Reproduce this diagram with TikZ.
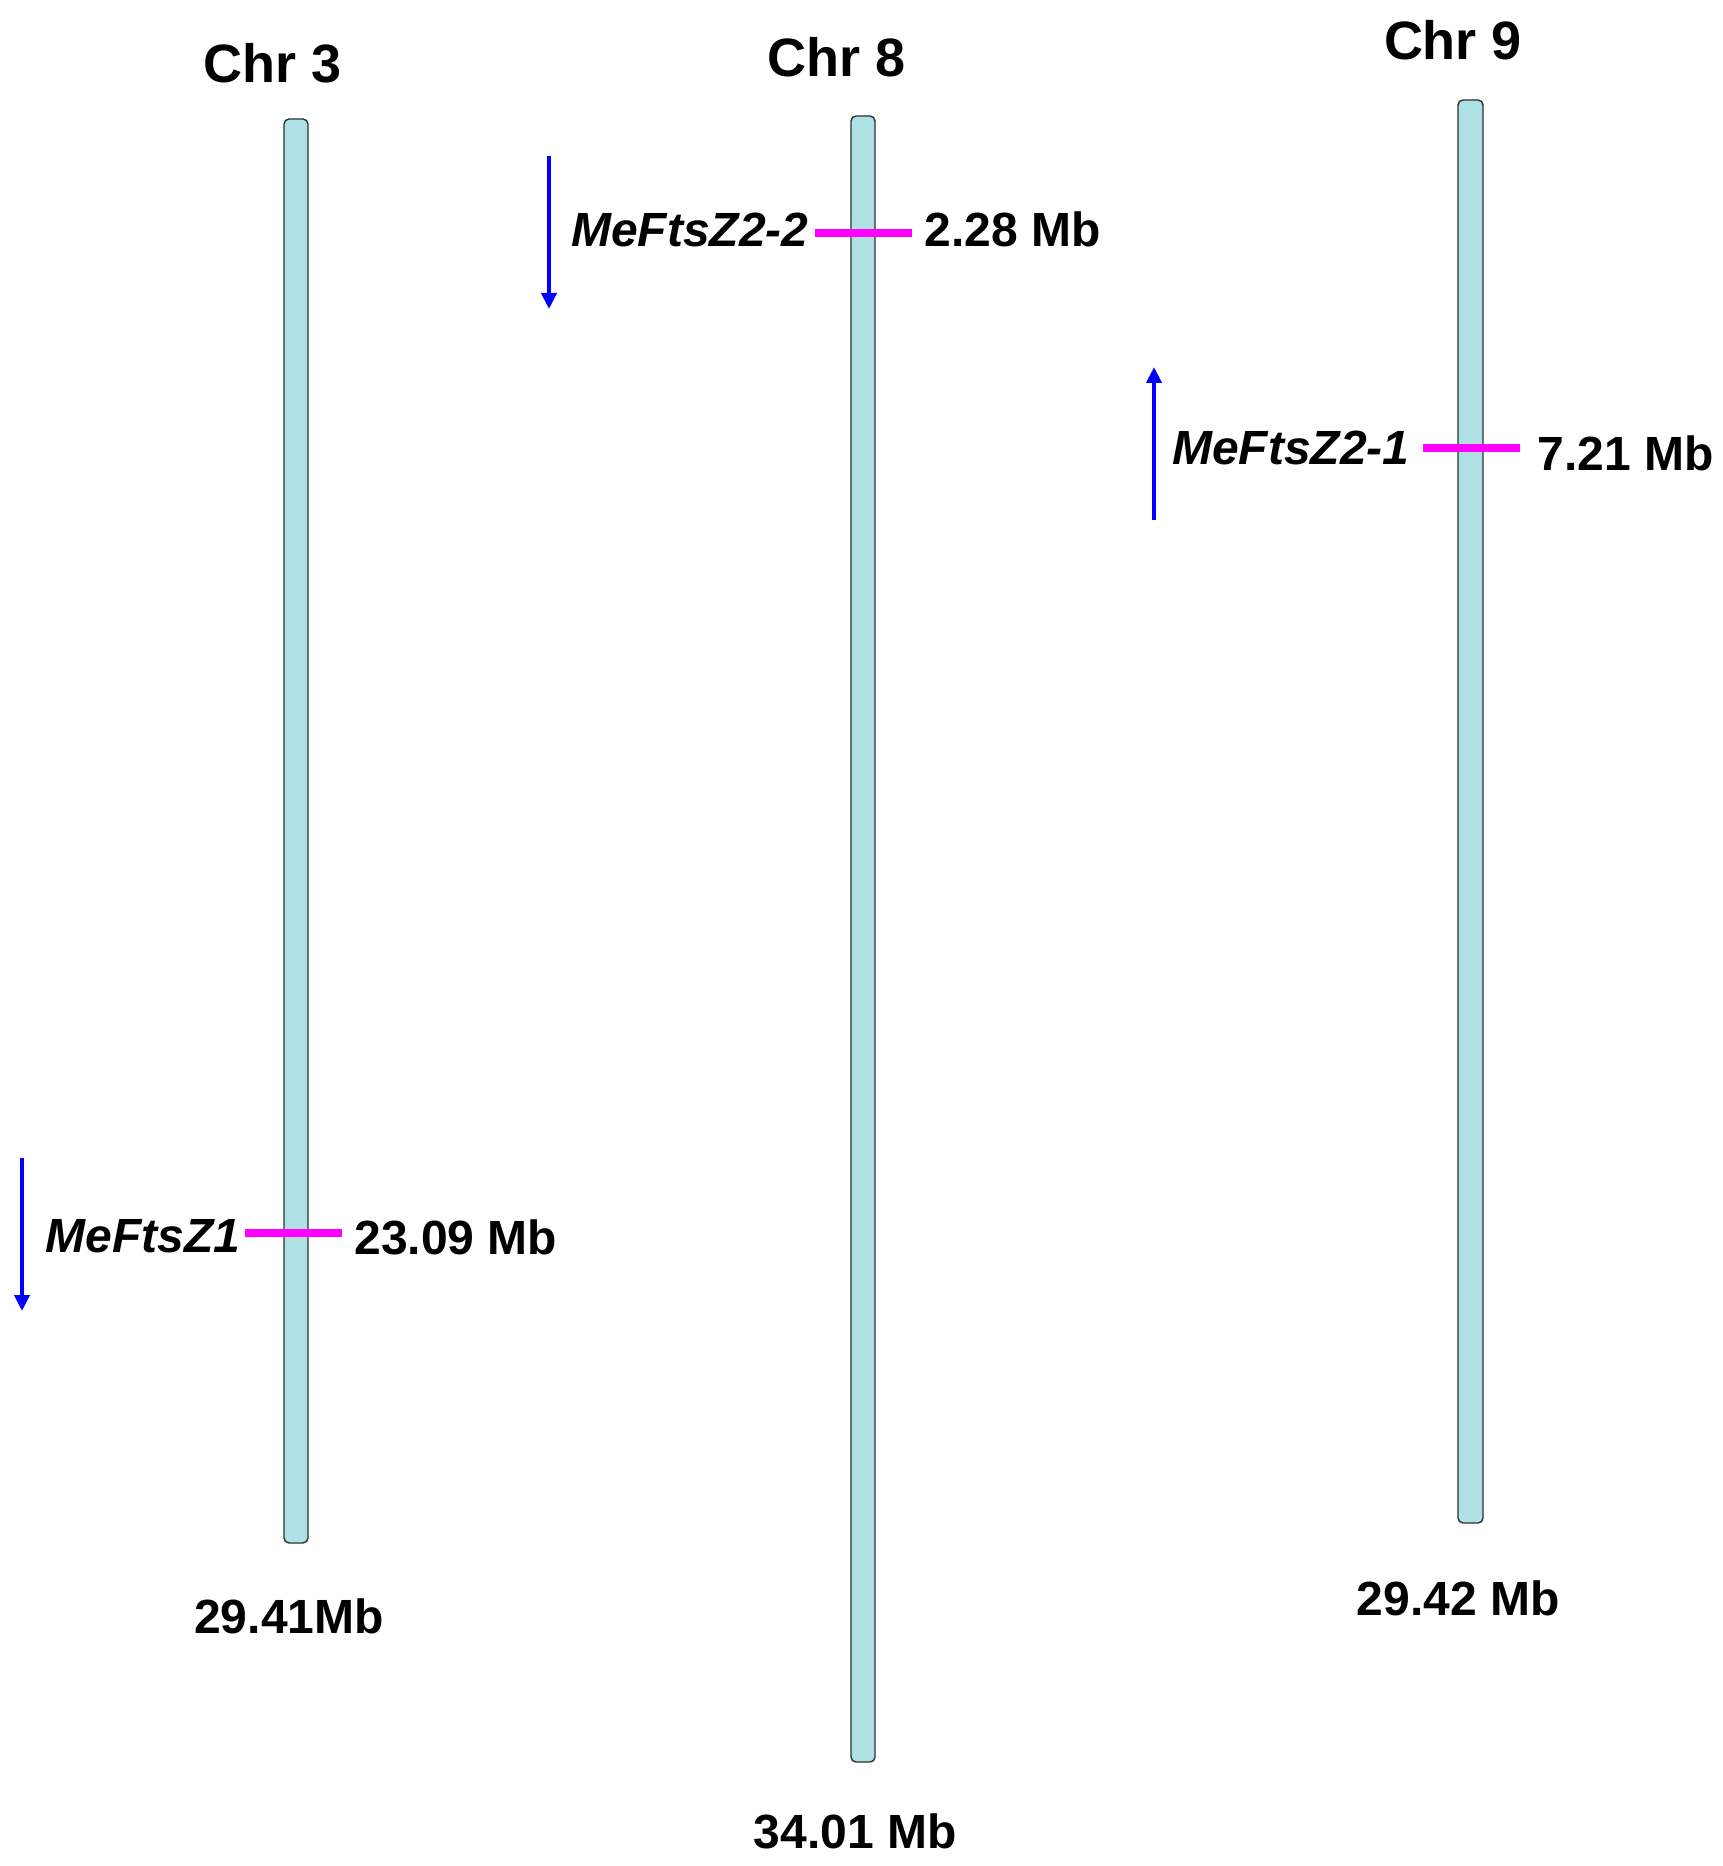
\documentclass[tikz,border=0pt]{standalone}
\usepackage{fontspec}
\setmainfont{Liberation Sans}
\usetikzlibrary{arrows.meta}
\definecolor{chrfill}{RGB}{174,224,228}
\definecolor{chredge}{RGB}{40,50,50}
\definecolor{genemark}{RGB}{255,0,255}
\definecolor{strand}{RGB}{0,0,255}
\tikzset{
  chrbar/.style={draw=chredge, line width=0.7pt, fill=chrfill, rounded corners=2.5pt, inner sep=0pt},
  chrtitle/.style={font=\fontsize{27}{31}\selectfont\bfseries, inner sep=0pt, anchor=base},
  endlabel/.style={font=\fontsize{24}{28}\selectfont\bfseries, inner sep=0pt, anchor=base},
  genename/.style={font=\fontsize{24}{28}\selectfont\bfseries\itshape, inner sep=0pt, anchor=base east},
  poslabel/.style={font=\fontsize{24}{28}\selectfont\bfseries, inner sep=0pt, anchor=base west},
  locus/.style={draw=genemark, line width=3.6pt},
  strandarrow/.style={draw=strand, line width=2pt, -{Triangle[width=7.5pt,length=8pt]}}
}
\begin{document}
\begin{tikzpicture}[x=0.5pt,y=-0.5pt]
\useasboundingbox (0,0) rectangle (1722,1866);

% Chromosome 3
\node[chrtitle] (t3) at (273,83) {Chr 3};
\path[chrbar] (284,119) rectangle (308,1543);
\node[endlabel] (e3) at (289,1633) {29.41Mb};
\coordinate (m3a) at (245,1233);
\coordinate (m3b) at (342,1233);
\draw[locus] (m3a) -- (m3b);
\node[genename] (g1) at (241,1252) {MeFtsZ1};
\node[poslabel] (p1) at (354,1254) {23.09 Mb};
\coordinate (a1s) at (22,1158);
\coordinate (a1e) at (22,1311);
\draw[strandarrow] (a1s) -- (a1e);

% Chromosome 8
\node[chrtitle] (t8) at (837,77) {Chr 8};
\path[chrbar] (851,116) rectangle (875,1762);
\node[endlabel] (e8) at (855,1848) {34.01 Mb};
\coordinate (m8a) at (815,233);
\coordinate (m8b) at (912,233);
\draw[locus] (m8a) -- (m8b);
\node[genename] (g22) at (809,247) {MeFtsZ2-2};
\node[poslabel] (p22) at (924,247) {2.28 Mb};
\coordinate (a2s) at (549,156);
\coordinate (a2e) at (549,309);
\draw[strandarrow] (a2s) -- (a2e);

% Chromosome 9
\node[chrtitle] (t9) at (1453,60) {Chr 9};
\path[chrbar] (1458,100) rectangle (1483,1523);
\node[endlabel] (e9) at (1458,1615) {29.42 Mb};
\coordinate (m9a) at (1423,448);
\coordinate (m9b) at (1520,448);
\draw[locus] (m9a) -- (m9b);
\node[genename] (g21) at (1410,465) {MeFtsZ2-1};
\node[poslabel] (p21) at (1537,471) {7.21 Mb};
\coordinate (a3s) at (1154,520);
\coordinate (a3e) at (1154,367);
\draw[strandarrow] (a3s) -- (a3e);
\end{tikzpicture}
\end{document}
